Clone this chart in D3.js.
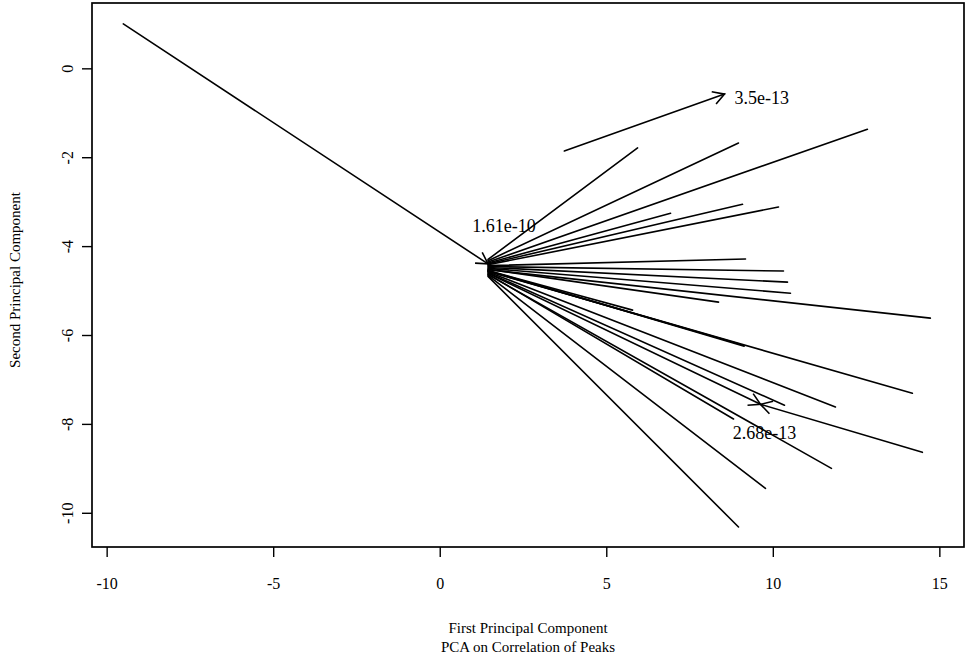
<!DOCTYPE html>
<html>
<head>
<meta charset="utf-8">
<script src="https://cdn.jsdelivr.net/npm/d3@7"></script>
<style>
  html, body { margin: 0; padding: 0; background: #fff; }
  svg { display: block; }
  text { font-family: "Liberation Serif", "Times New Roman", serif; fill: #000; }
</style>
</head>
<body>
<svg id="chart" width="970" height="659"></svg>
<script>
// ---- data ----
const xTicks = [-10, -5, 0, 5, 10, 15];
const yTicks = [0, -2, -4, -6, -8, -10];
const xTickLabels = ["-10", "-5", "0", "5", "10", "15"];
const yTickLabels = ["0", "-2", "-4", "-6", "-8", "-10"];

// fan of segments leaving the common origin
const fanStartX = 1.45;
const fanStartY = [-4.30, -4.33, -4.36, -4.38, -4.40, -4.42,
                   -4.44, -4.46, -4.48, -4.50, -4.52, -4.53,
                   -4.55, -4.56, -4.55, -4.57, -4.58, -4.60, -4.63, -4.64, -4.66, -4.68];
const fanEndX = [5.94, 8.97, 12.84, 6.93, 9.09, 10.17,
                 9.18, 10.32, 10.44, 10.53, 8.37, 14.73,
                 9.14, 9.02, 5.79, 14.19, 11.88, 10.35, 8.82, 11.76, 9.78, 8.97];
const fanEndY = [-1.79, -1.68, -1.37, -3.26, -3.06, -3.12,
                 -4.29, -4.56, -4.81, -5.06, -5.26, -5.62,
                 -6.25, -6.21, -5.44, -7.31, -7.62, -7.58, -7.89, -9.00, -9.45, -10.32];

// arrows (from -> to, head at "to")
const arrowFromX = [-9.50, 3.74, 14.49, 1.45];
const arrowFromY = [1.00, -1.86, -8.64, -4.61];
const arrowToX   = [1.45, 8.55, 9.63, 9.63];
const arrowToY   = [-4.40, -0.58, -7.56, -7.56];

// annotation labels, attached to arrows 0, 1, 2
const annLabels = ["1.61e-10", "3.5e-13", "2.68e-13"];
const annArrow = [0, 1, 2];

const xTitle = "First Principal Component";
const subTitle = "PCA on Correlation of Peaks";
const yTitle = "Second Principal Component";

// ---- layout ----
const svg = d3.select("#chart");
const mL = 92, mR = 964, mT = 3, mB = 547;
const x = d3.scaleLinear().domain([-10.44, 15.74]).range([mL, mR]);
const y = d3.scaleLinear().domain([-10.77, 1.47]).range([mB, mT]);

// box
svg.append("rect")
  .attr("x", mL).attr("y", mT)
  .attr("width", mR - mL).attr("height", mB - mT)
  .attr("fill", "none").attr("stroke", "#000").attr("stroke-width", 1.7);

// x axis
const xAxis = d3.axisBottom(x).tickValues(xTicks).tickSize(10).tickSizeOuter(0)
  .tickFormat((d, i) => xTickLabels[i]);
const gx = svg.append("g").attr("transform", `translate(0,${mB})`).call(xAxis);
gx.select(".domain").remove();
gx.selectAll(".tick line").attr("stroke", "#000").attr("stroke-width", 1.4);
gx.selectAll(".tick text")
  .attr("y", 0).attr("dy", 0)
  .attr("transform", "translate(0,42)")
  .style("font-size", "16px").style("font-family", "Liberation Serif, serif");

// y axis
const yAxis = d3.axisLeft(y).tickValues(yTicks).tickSize(10).tickSizeOuter(0)
  .tickFormat((d, i) => yTickLabels[i]);
const gy = svg.append("g").attr("transform", `translate(${mL},0)`).call(yAxis);
gy.select(".domain").remove();
gy.selectAll(".tick line").attr("stroke", "#000").attr("stroke-width", 1.4);
gy.selectAll(".tick text")
  .attr("x", 0).attr("dy", 0)
  .attr("text-anchor", "middle")
  .attr("transform", "translate(-19,0) rotate(-90)")
  .style("font-size", "16px").style("font-family", "Liberation Serif, serif");

// titles
svg.append("text").attr("x", (mL + mR) / 2).attr("y", 633)
  .attr("text-anchor", "middle").style("font-size", "15px").text(xTitle);
svg.append("text").attr("x", (mL + mR) / 2).attr("y", 652)
  .attr("text-anchor", "middle").style("font-size", "15px").text(subTitle);
svg.append("text")
  .attr("transform", `translate(20,${(mT + mB) / 2 + 5}) rotate(-90)`)
  .attr("text-anchor", "middle").style("font-size", "15px").text(yTitle);

// fan segments
const fan = fanEndX.map((ex, i) => ({ x0: fanStartX, y0: fanStartY[i], x1: ex, y1: fanEndY[i] }));
svg.append("g").selectAll("line").data(fan).join("line")
  .attr("x1", d => x(d.x0)).attr("y1", d => y(d.y0))
  .attr("x2", d => x(d.x1)).attr("y2", d => y(d.y1))
  .attr("stroke", "#000").attr("stroke-width", 1.6).attr("stroke-linecap", "round");

// arrows
const arrows = arrowFromX.map((fx, i) => ({ x0: fx, y0: arrowFromY[i], x1: arrowToX[i], y1: arrowToY[i] }));
const headLen = 13, headAng = Math.PI / 6;
const ga = svg.append("g");
ga.selectAll("line").data(arrows).join("line")
  .attr("x1", d => x(d.x0)).attr("y1", d => y(d.y0))
  .attr("x2", d => x(d.x1)).attr("y2", d => y(d.y1))
  .attr("stroke", "#000").attr("stroke-width", 1.6).attr("stroke-linecap", "round");
ga.selectAll("path").data(arrows).join("path")
  .attr("d", d => {
    const px0 = x(d.x0), py0 = y(d.y0), px1 = x(d.x1), py1 = y(d.y1);
    const a = Math.atan2(py0 - py1, px0 - px1);
    const b1 = [px1 + headLen * Math.cos(a + headAng), py1 + headLen * Math.sin(a + headAng)];
    const b2 = [px1 + headLen * Math.cos(a - headAng), py1 + headLen * Math.sin(a - headAng)];
    return `M${b1[0]},${b1[1]}L${px1},${py1}L${b2[0]},${b2[1]}`;
  })
  .attr("fill", "none").attr("stroke", "#000").attr("stroke-width", 1.6);

// annotation labels
const annOffsets = [[16, -32, "middle"], [10, 10, "start"], [4, 35, "middle"]];
svg.append("g").selectAll("text").data(annLabels).join("text")
  .attr("x", (d, i) => x(arrowToX[annArrow[i]]) + annOffsets[i][0])
  .attr("y", (d, i) => y(arrowToY[annArrow[i]]) + annOffsets[i][1])
  .attr("text-anchor", (d, i) => annOffsets[i][2])
  .style("font-size", "18px")
  .text(d => d);
</script>
</body>
</html>
